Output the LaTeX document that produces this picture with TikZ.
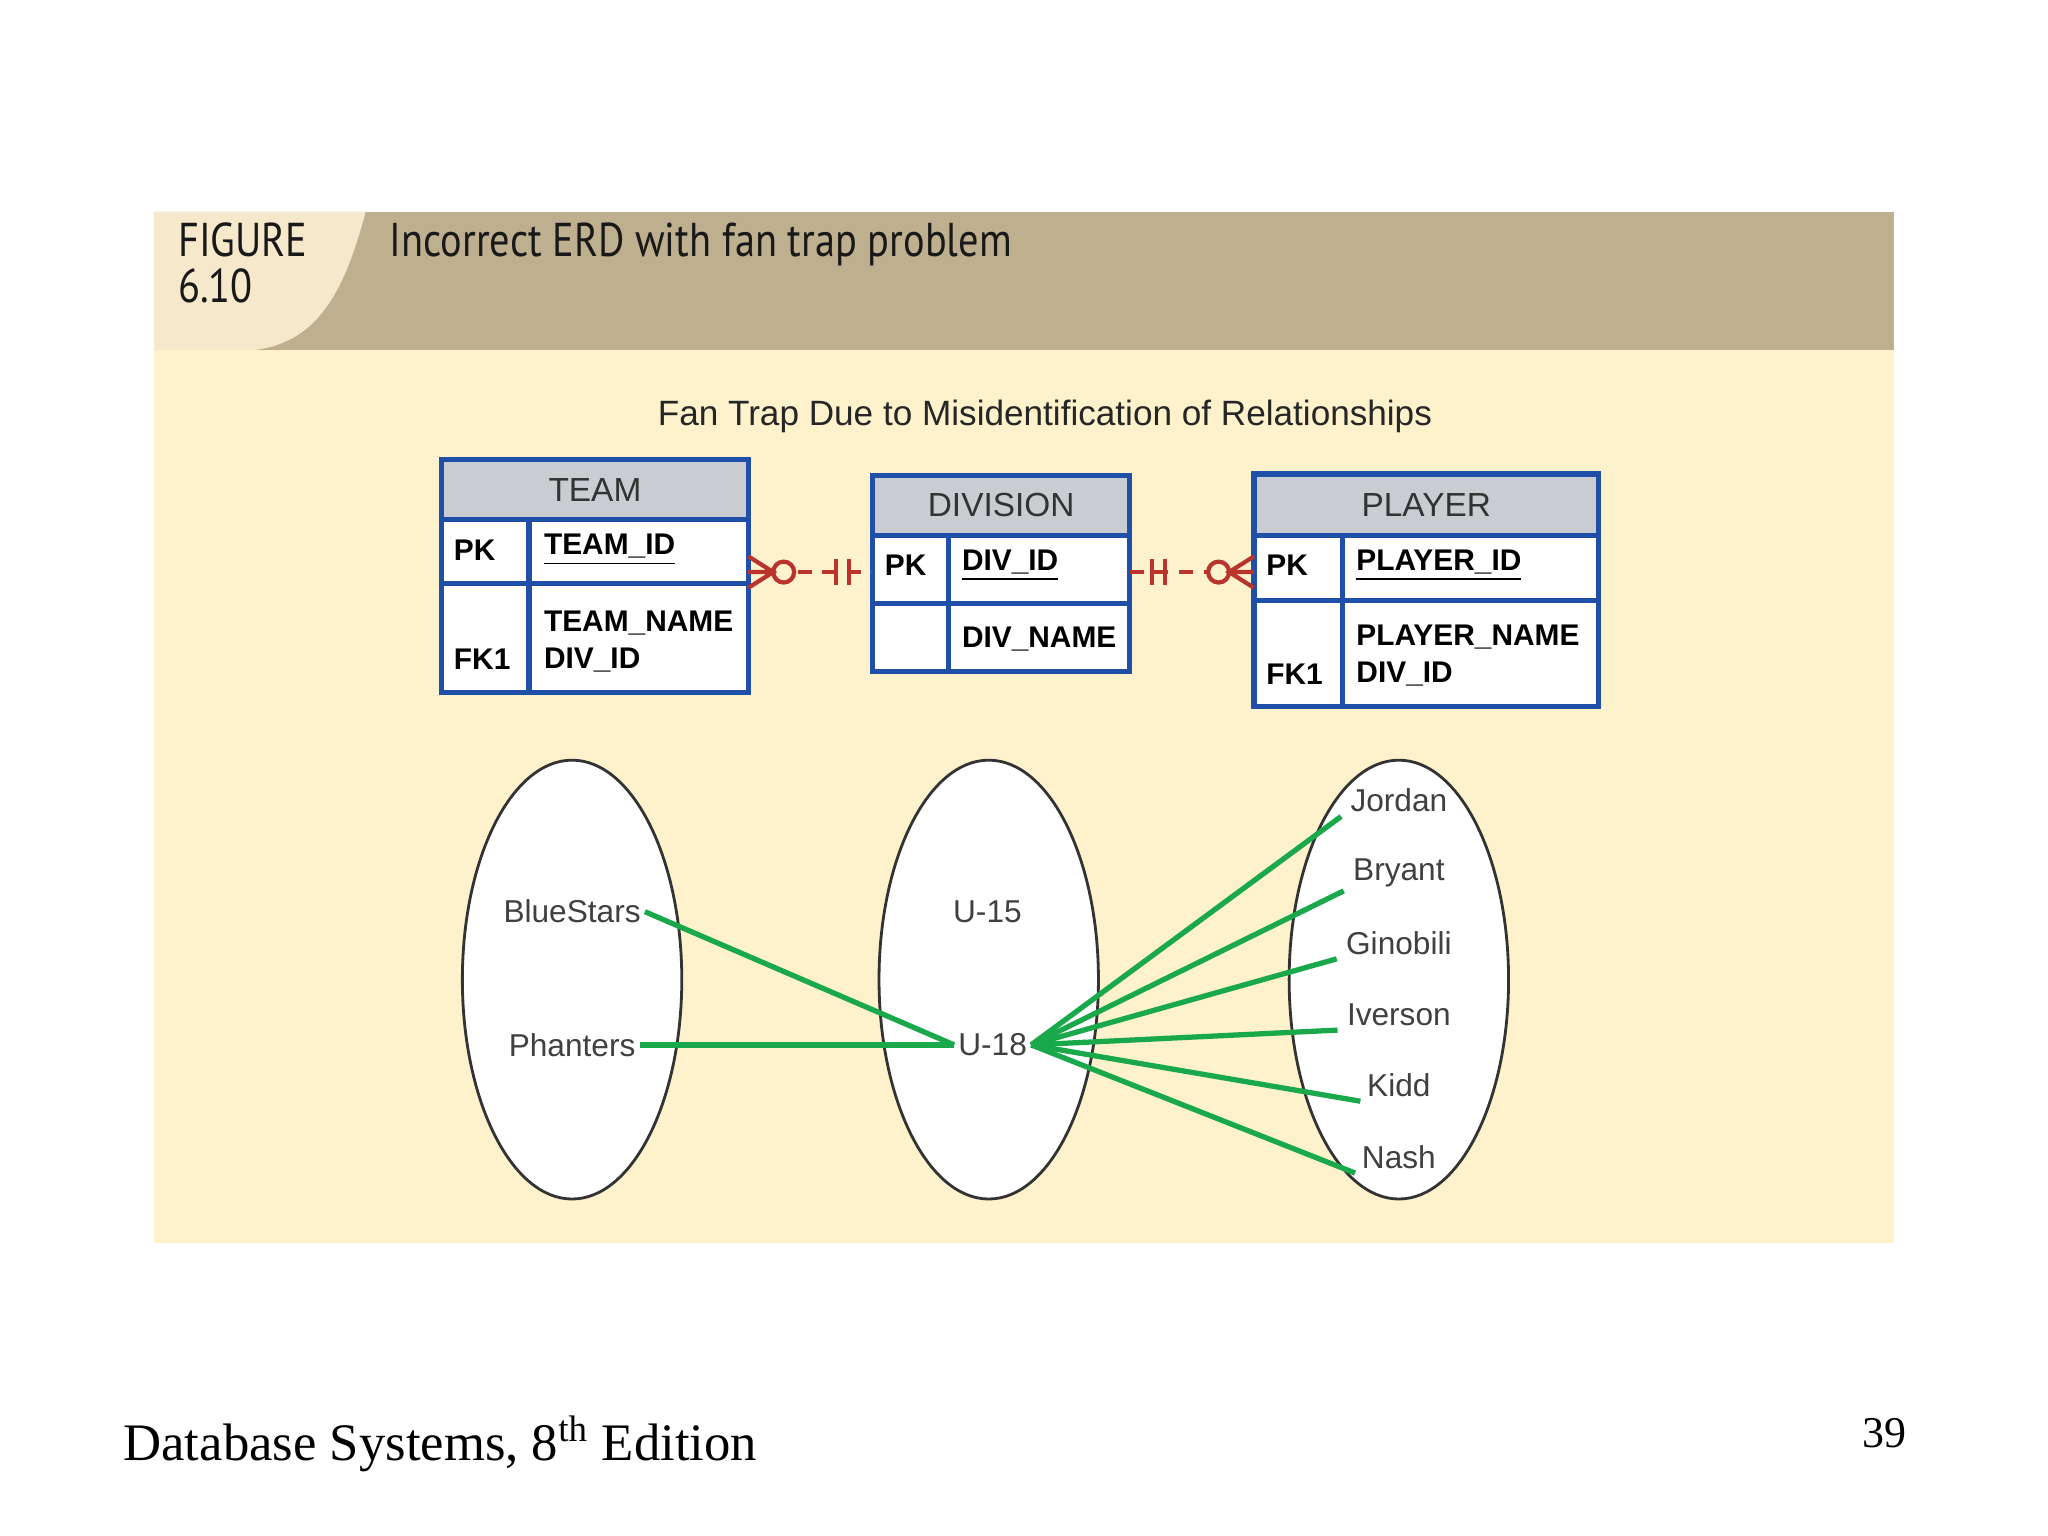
\documentclass[tikz,border=0pt]{standalone}
\usepackage{fontspec}
\setmainfont{Liberation Sans}
\newfontfamily\seriffont{Liberation Serif}
\newfontfamily\capfont{PT Sans}
\usetikzlibrary{positioning, calc, shapes.geometric}
\definecolor{band}{HTML}{FDF2CC}
\definecolor{bandhead}{HTML}{BEB08F}
\definecolor{bandcorner}{HTML}{F5E8CB}
\definecolor{tblue}{HTML}{1F4FA8}
\definecolor{thead}{HTML}{C9CCD1}
\definecolor{fan}{HTML}{19A84A}
\definecolor{rel}{HTML}{B8342C}
\def\u{0.013061cm}
\begin{document}
\begin{tikzpicture}[x=\u,y=-\u,
    tbl/.style={draw=tblue,line width=1.5pt},
    hd/.style={font=\fontsize{9.5}{11}\selectfont,text=black!80},
    fld/.style={font=\bfseries\fontsize{8.5}{10}\selectfont,anchor=west,inner sep=0pt},
    set/.style={ellipse,draw=black!80,fill=white,line width=0.8pt},
    val/.style={font=\fontsize{9}{11}\selectfont,text=black!75,inner sep=1pt},
    link/.style={draw=fan,line width=1.5pt},
    crow/.style={draw=rel,line width=1.2pt},
    ttl/.style={font=\capfont\fontsize{13.5}{15}\selectfont,anchor=north west,inner sep=0pt,xscale=0.85,text=black!90}]
    \useasboundingbox (0,0) rectangle (1568,1176);
    \fill[white] (0,0) rectangle (1568,1176);
    % band
    \fill[band] (118,162) rectangle (1450,952);
    \fill[bandhead] (118,162) rectangle (1450,268);
    \fill[bandcorner] (118,162) -- (280,162) .. controls (262,230) and (240,262) .. (195,268) -- (118,268) -- cycle;
    \node[ttl,align=left] (fig) at (136,170) {FIGURE\\[-2pt]6.10};
    \node[ttl] (title) at (298,170) {Incorrect ERD with fan trap problem};
    \node[font=\fontsize{10}{12}\selectfont,text=black!85] (sub) at (800,319) {Fan Trap Due to Misidentification of Relationships};
    % tables
    \foreach \n/\xa/\xm/\xb/\ya/\yb/\yc/\yd/\name in {team/338/405/573/352/398/447/530/TEAM, div/668/726/865/364/410/462/514/DIVISION, plr/960/1028/1224/363/410/460/541/PLAYER}{
        \fill[thead] (\xa,\ya) rectangle (\xb,\yb);
        \fill[white] (\xa,\yb) rectangle (\xb,\yd);
        \draw[tbl] (\xa,\ya) rectangle (\xb,\yd);
        \draw[tbl] (\xa,\yb) -- (\xb,\yb) (\xa,\yc) -- (\xb,\yc) (\xm,\yb) -- (\xm,\yd);
        \node[hd] (\n-h) at ({(\xa+\xb)/2},{(\ya+\yb)/2}) {\name};
        \coordinate (\n-w) at (\xa,438);
        \coordinate (\n-e) at (\xb,438);
    }
    \node[fld] (t1) at (347,421) {PK};
    \node[fld] (t2) at (416,421) {\underline{TEAM\_ID}};
    \node[fld] (t3) at (416,477) {TEAM\_NAME};
    \node[fld] (t4) at (347,505) {FK1};
    \node[fld] (t5) at (416,505) {DIV\_ID};
    \node[fld] (d1) at (677,433) {PK};
    \node[fld] (d2) at (736,433) {\underline{DIV\_ID}};
    \node[fld] (d3) at (736,489) {DIV\_NAME};
    \node[fld] (p1) at (969,433) {PK};
    \node[fld] (p2) at (1038,433) {\underline{PLAYER\_ID}};
    \node[fld] (p3) at (1038,488) {PLAYER\_NAME};
    \node[fld] (p4) at (969,516) {FK1};
    \node[fld] (p5) at (1038,516) {DIV\_ID};
    % relationships
    \draw[crow,dash pattern=on 4pt off 3pt] (team-e) -- (div-w);
    \draw[crow,dash pattern=on 4pt off 3pt] (div-e) -- (plr-w);
    \draw[crow,fill=band] (600,438) circle (8);
    \draw[crow] (573,426) -- (592,438) -- (573,450) (573,438) -- (592,438);
    \draw[crow] (640,428) -- (640,448) (650,428) -- (650,448);
    \draw[crow,fill=band] (933,438) circle (8);
    \draw[crow] (960,426) -- (941,438) -- (960,450) (960,438) -- (941,438);
    \draw[crow] (882,428) -- (882,448) (892,428) -- (892,448);
    % sets
    \node[set,minimum width={168*\u},minimum height={336*\u}] (teams) at (438,750) {};
    \node[set,minimum width={168*\u},minimum height={336*\u}] (divs) at (757,750) {};
    \node[set,minimum width={168*\u},minimum height={336*\u}] (plrs) at (1071,750) {};
    \node[val] (blue) at (438,698) {BlueStars};
    \node[val] (phan) at (438,800) {Phanters};
    \node[val] (u15) at (756,698) {U-15};
    \node[val] (u18) at (760,800) {U-18};
    \foreach \p/\y in {Jordan/613, Bryant/668, Ginobili/722, Iverson/777, Kidd/831, Nash/886}
        \node[val] (\p) at (1071,\y) {\p};
    \draw[link] (blue.east) -- (u18.west);
    \draw[link] (phan.east) -- (u18.west);
    \foreach \p/\dx in {Jordan/-4, Bryant/-4, Ginobili/-4, Iverson/-4, Kidd/-2, Nash/-2}
        \draw[link] (u18.east) -- ([xshift={\dx*\u}]\p.south west);
    % footer
    \node[anchor=base west,font=\seriffont\fontsize{15}{18}\selectfont,inner sep=0pt] (foot) at (94,1118) {Database Systems, 8\textsuperscript{th} Edition};
    \node[anchor=base east,font=\seriffont\fontsize{12.5}{15}\selectfont,inner sep=0pt] (pg) at (1460,1108) {39};
\end{tikzpicture}
\end{document}
